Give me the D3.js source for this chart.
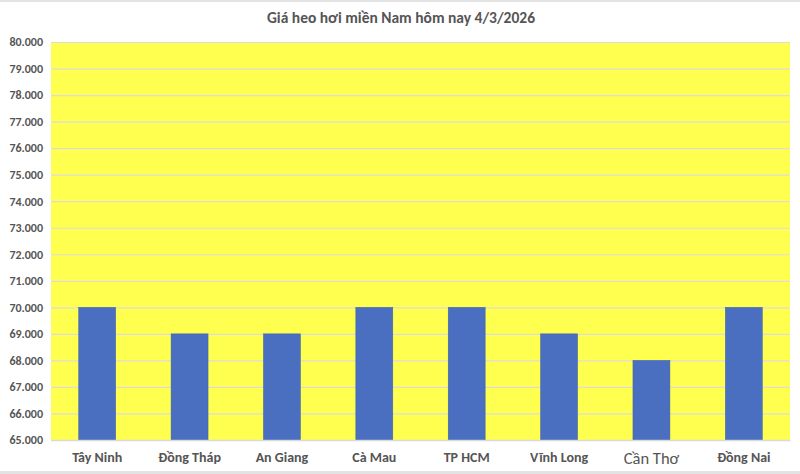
<!DOCTYPE html>
<html>
<head>
<meta charset="utf-8">
<script src="https://cdn.jsdelivr.net/npm/d3@7"></script>
<style>
  body { margin: 0; background: #fff; }
  text { font-family: Calibri, Carlito, Lato, "Open Sans", sans-serif; }
</style>
</head>
<body>
<script>
var w = 800;
var h = 474;

var titleText = "Giá heo hơi miền Nam hôm nay 4/3/2026";
var provinces = ["Tây Ninh", "Đồng Tháp", "An Giang", "Cà Mau", "TP HCM", "Vĩnh Long", "Cần Thơ", "Đồng Nai"];
var prices = [70000, 69000, 69000, 70000, 70000, 69000, 68000, 70000];
var yTicks = [65000, 66000, 67000, 68000, 69000, 70000, 71000, 72000, 73000, 74000, 75000, 76000, 77000, 78000, 79000, 80000];

// plot area edges (note: "top" is taken by window.top)
var plotLeft = 51, plotRight = 790, plotTop = 42, plotBottom = 440;

var svg = d3.select("body").append("svg")
  .attr("width", w)
  .attr("height", h);

// spreadsheet border strips
svg.append("rect").attr("x", 0).attr("y", 0).attr("width", w).attr("height", 2).attr("fill", "#e3e3e3");
svg.append("rect").attr("x", 0).attr("y", h - 3).attr("width", w).attr("height", 3).attr("fill", "#e3e3e3");

var xScale = d3.scaleBand()
  .domain(provinces)
  .range([plotLeft, plotRight])
  .paddingInner(0.6)
  .paddingOuter(0.3);

var yScale = d3.scaleLinear()
  .domain([65000, 80000])
  .range([plotBottom, plotTop]);

// plot area
svg.append("rect")
  .attr("x", plotLeft)
  .attr("y", plotTop)
  .attr("width", plotRight - plotLeft)
  .attr("height", plotBottom - plotTop)
  .attr("fill", "#ffff4f");

var fmt = function(d) { return d3.format(",")(d).replace(/,/g, "."); };

var yAxis = d3.axisLeft(yScale)
  .tickValues(yTicks)
  .tickSize(-(plotRight - plotLeft))
  .tickFormat(fmt);

var gy = svg.append("g")
  .attr("transform", "translate(" + plotLeft + ",0)")
  .call(yAxis);
gy.select(".domain").remove();
gy.selectAll(".tick line").attr("stroke", "#dcdcdc").attr("stroke-width", 1.2);
gy.selectAll(".tick text")
  .attr("x", -8)
  .attr("fill", "#555")
  .attr("font-size", "12px")
  .attr("font-weight", "bold");

svg.selectAll("rect.bar")
  .data(prices)
  .enter()
  .append("rect")
  .attr("class", "bar")
  .attr("x", function(d, i) { return xScale(provinces[i]); })
  .attr("y", function(d) { return yScale(d); })
  .attr("width", xScale.bandwidth())
  .attr("height", function(d) { return plotBottom - yScale(d); })
  .attr("fill", "#4a6fc1")
  .attr("stroke", "#3d5fa8")
  .attr("stroke-width", 0.5);

var xAxis = d3.axisBottom(xScale).tickSize(0).tickPadding(12);
var gx = svg.append("g")
  .attr("transform", "translate(0," + plotBottom + ")")
  .call(xAxis);
gx.select(".domain").attr("stroke", "#d9d9d9").attr("stroke-width", 1.5);
gx.selectAll(".tick text")
  .attr("fill", "#555")
  .attr("font-size", function(d) { return d == "Cần Thơ" ? "16.5px" : "14px"; })
  .attr("font-weight", function(d) { return d == "Cần Thơ" ? "normal" : "bold"; });

svg.append("text")
  .attr("x", 401)
  .attr("y", 23)
  .attr("text-anchor", "middle")
  .attr("fill", "#555")
  .attr("font-size", "15.5px")
  .attr("font-weight", "bold")
  .text(titleText);
</script>
</body>
</html>
